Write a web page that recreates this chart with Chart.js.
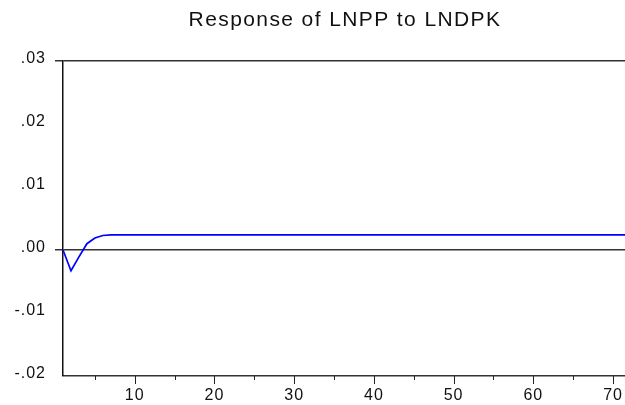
<!DOCTYPE html>
<html>
<head>
<meta charset="utf-8">
<script src="https://cdn.jsdelivr.net/npm/chart.js@4"></script>
<style>
  html, body { margin: 0; padding: 0; background: #fff; }
  #wrap { width: 625px; height: 405px; }
</style>
</head>
<body>
<div id="wrap"><canvas id="irf"></canvas></div>
<script>
const titleText = 'Response of LNPP to LNDPK';

// periods 1..72
const periods = [
  1, 2, 3, 4, 5, 6, 7, 8, 9, 10, 11, 12, 13, 14, 15, 16, 17, 18,
  19, 20, 21, 22, 23, 24, 25, 26, 27, 28, 29, 30, 31, 32, 33, 34, 35, 36,
  37, 38, 39, 40, 41, 42, 43, 44, 45, 46, 47, 48, 49, 50, 51, 52, 53, 54,
  55, 56, 57, 58, 59, 60, 61, 62, 63, 64, 65, 66, 67, 68, 69, 70, 71, 72
];

// response
const response = [
  0.0000, -0.0033, -0.0011, 0.0010, 0.0019, 0.0023, 0.0024, 0.0024, 0.0024, 0.0024,
  0.0024, 0.0024, 0.0024, 0.0024, 0.0024, 0.0024, 0.0024, 0.0024, 0.0024, 0.0024,
  0.0024, 0.0024, 0.0024, 0.0024, 0.0024, 0.0024, 0.0024, 0.0024, 0.0024, 0.0024,
  0.0024, 0.0024, 0.0024, 0.0024, 0.0024, 0.0024, 0.0024, 0.0024, 0.0024, 0.0024,
  0.0024, 0.0024, 0.0024, 0.0024, 0.0024, 0.0024, 0.0024, 0.0024, 0.0024, 0.0024,
  0.0024, 0.0024, 0.0024, 0.0024, 0.0024, 0.0024, 0.0024, 0.0024, 0.0024, 0.0024,
  0.0024, 0.0024, 0.0024, 0.0024, 0.0024, 0.0024, 0.0024, 0.0024, 0.0024, 0.0024,
  0.0024, 0.0024
];

const yTicks = [-0.02, -0.01, 0.00, 0.01, 0.02, 0.03];
const yLabels = ['-.02', '-.01', '.00', '.01', '.02', '.03'];
const xTicks = [5, 10, 15, 20, 25, 30, 35, 40, 45, 50, 55, 60, 65, 70];

const FONT = 'Liberation Sans, Arial, sans-serif';

// the original text is set a bit loose
const spacing = {
  id: 'spacing',
  beforeInit(chart) { chart.ctx.letterSpacing = '1px'; },
  beforeDraw(chart) { chart.ctx.letterSpacing = '1px'; }
};

// title centred over the plot area, not the canvas
const plotTitle = {
  id: 'plotTitle',
  afterDraw(chart) {
    const c = chart.ctx, a = chart.chartArea;
    c.save();
    c.letterSpacing = '1.4px';
    c.font = '21px ' + FONT;
    c.fillStyle = '#111';
    c.textAlign = 'center';
    c.textBaseline = 'middle';
    c.fillText(titleText, (a.left + a.right) / 2 + 1, 20);
    c.restore();
  }
};

// short ticks at the 5s, long ones at the 10s
const xMinorTicks = {
  id: 'xMinorTicks',
  afterDraw(chart) {
    const c = chart.ctx, sx = chart.scales.x, y0 = chart.chartArea.bottom;
    c.save();
    c.strokeStyle = '#222';
    c.lineWidth = 1;
    xTicks.forEach(v => {
      const px = Math.round(sx.getPixelForValue(v)) + 0.5;
      const len = v % 10 === 0 ? 8 : 4;
      c.beginPath();
      c.moveTo(px, y0);
      c.lineTo(px, y0 + len);
      c.stroke();
    });
    c.restore();
  }
};

const data = periods.map((p, i) => ({ x: p, y: response[i] }));

const isRuled = v => Math.abs(v) < 1e-9 || Math.abs(v - 0.03) < 1e-9;

new Chart(document.getElementById('irf'), {
  type: 'line',
  data: {
    datasets: [{
      data: data,
      borderColor: '#0000ff',
      borderWidth: 1.7,
      pointRadius: 0,
      tension: 0,
      fill: false
    }]
  },
  options: {
    responsive: true,
    maintainAspectRatio: false,
    animation: false,
    layout: { padding: { top: 61 } },
    plugins: {
      legend: { display: false },
      tooltip: { enabled: false },
      title: { display: false }
    },
    scales: {
      x: {
        type: 'linear',
        min: 1,
        max: 71.5,
        afterBuildTicks: s => { s.ticks = xTicks.map(v => ({ value: v })); },
        afterFit: s => { s.height = 29; s.paddingLeft = 0; s.paddingRight = 0; },
        ticks: {
          autoSkip: false,
          maxRotation: 0,
          padding: 10,
          color: '#111',
          font: { family: FONT, size: 16 },
          callback: v => (v % 10 === 0 ? String(v) : '')
        },
        grid: { display: true, drawOnChartArea: false, drawTicks: false },
        border: { display: true, color: '#333', width: 1.5 }
      },
      y: {
        min: -0.02,
        max: 0.03,
        afterBuildTicks: s => { s.ticks = yTicks.map(v => ({ value: v })); },
        afterFit: s => { s.width = 63; s.paddingTop = 0; s.paddingBottom = 0; },
        ticks: {
          padding: 9,
          labelOffset: -2,
          color: '#111',
          font: { family: FONT, size: 16 },
          callback: (v, i) => yLabels[i]
        },
        grid: {
          drawTicks: true,
          tickLength: 8,
          tickColor: '#333',
          lineWidth: ctx => (ctx.tick && isRuled(ctx.tick.value) ? 1.5 : 0),
          color: ctx => (ctx.tick && isRuled(ctx.tick.value) ? '#333' : 'rgba(0,0,0,0)')
        },
        border: { display: true, color: '#111', width: 1.5 }
      }
    }
  },
  plugins: [spacing, plotTitle, xMinorTicks]
});
</script>
</body>
</html>
